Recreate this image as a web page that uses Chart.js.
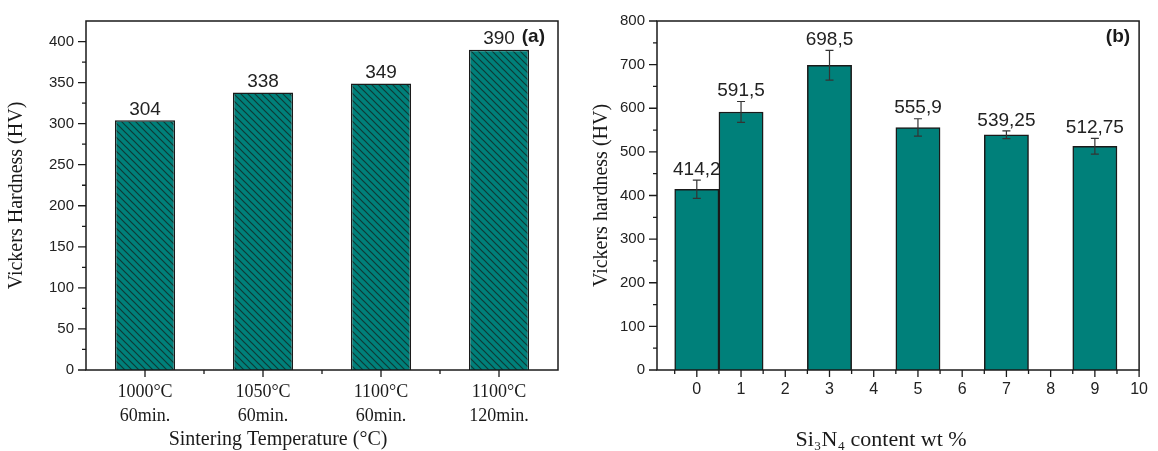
<!DOCTYPE html>
<html>
<head>
<meta charset="utf-8">
<script src="https://cdn.jsdelivr.net/npm/chart.js"></script>
<style>
  html, body { margin: 0; padding: 0; background: #fff; }
  #wrapA { position: absolute; left: 0; top: 0; width: 580px; height: 451px; }
  #wrapB { position: absolute; left: 580px; top: 0; width: 578px; height: 451px; }
</style>
</head>
<body>
<div id="wrapA"><canvas id="chartA"></canvas></div>
<div id="wrapB"><canvas id="chartB"></canvas></div>
<script>
// panel (a) data
const tempLabels = [['1000°C', '60min.'], ['1050°C', '60min.'], ['1100°C', '60min.'], ['1100°C', '120min.']];
const hardnessA = [304, 338, 349, 390];

// panel (b) data
const si3n4 = [0, 1, 3, 5, 7, 9];
const hardnessB = [414.2, 591.5, 698.5, 555.9, 539.25, 512.75];
const errB = [21, 24, 34, 20, 9, 18];
const xTicksB = [0, 1, 2, 3, 4, 5, 6, 7, 8, 9, 10];

const TEAL = '#00807a';
const INK = '#1a1a1a';
const SANS = 'Liberation Sans, Arial, sans-serif';
const SERIF = 'Liberation Serif, Times New Roman, serif';

// hatch pattern for panel (a)
function hatch() {
    const s = 7;
    const c = document.createElement('canvas');
    c.width = s; c.height = s;
    const g = c.getContext('2d');
    g.fillStyle = TEAL;
    g.fillRect(0, 0, s, s);
    g.strokeStyle = '#0d3a36';
    g.lineWidth = 1.2;
    g.beginPath();
    g.moveTo(0, 0); g.lineTo(s, s);
    g.moveTo(-1, s - 1); g.lineTo(1, s + 1);
    g.moveTo(s - 1, -1); g.lineTo(s + 1, 1);
    g.stroke();
    return g.createPattern(c, 'repeat');
}

// frame + tick marks + labels drawn on top
function framePlugin(opts) {
    return {
        id: 'frame',
        afterDatasetsDraw(chart) {
            const ctx = chart.ctx;
            const a = chart.chartArea;
            const x = chart.scales.x, y = chart.scales.y;
            ctx.save();
            ctx.strokeStyle = INK;
            ctx.lineWidth = 1.5;
            ctx.strokeRect(a.left, a.top, a.right - a.left, a.bottom - a.top);

            ctx.lineWidth = 1.3;
            ctx.beginPath();
            // y ticks
            const yt = y.ticks.map(t => t.value);
            const ystep = yt[1] - yt[0];
            yt.forEach(v => {
                const py = y.getPixelForValue(v);
                ctx.moveTo(a.left - 8, py); ctx.lineTo(a.left, py);
                const m = v + ystep / 2;
                if (m < y.max) {
                    const pm = y.getPixelForValue(m);
                    ctx.moveTo(a.left - 4, pm); ctx.lineTo(a.left, pm);
                }
            });
            // x ticks
            opts.xMajor(x).forEach(px => { ctx.moveTo(px, a.bottom); ctx.lineTo(px, a.bottom + 7); });
            opts.xMinor(x).forEach(px => { ctx.moveTo(px, a.bottom); ctx.lineTo(px, a.bottom + 4); });
            ctx.stroke();

            // panel tag
            ctx.fillStyle = INK;
            ctx.font = 'bold 19px ' + SANS;
            ctx.textAlign = 'right';
            ctx.textBaseline = 'middle';
            ctx.fillText(opts.tag, a.right - opts.tagDx, a.top + 16);

            // x axis title
            ctx.font = opts.xTitleSize + 'px ' + SERIF;
            ctx.textAlign = 'center';
            ctx.textBaseline = 'middle';
            ctx.fillText(opts.xTitle, (a.left + a.right) / 2 + opts.xTitleDx, opts.xTitleY);
            ctx.restore();
        }
    };
}

// value labels above bars (and error bars)
const valuePlugin = {
    id: 'values',
    afterDatasetsDraw(chart) {
        const ctx = chart.ctx;
        const meta = chart.getDatasetMeta(0);
        const ds = chart.data.datasets[0];
        const y = chart.scales.y;
        ctx.save();
        meta.data.forEach((bar, i) => {
            const raw = ds.data[i];
            const val = typeof raw === 'object' ? raw.y : raw;
            let topY = bar.y;
            if (ds.errors) {
                const e = ds.errors[i];
                const yHi = y.getPixelForValue(val + e);
                const yLo = y.getPixelForValue(val - e);
                ctx.strokeStyle = '#333';
                ctx.lineWidth = 1.2;
                ctx.beginPath();
                ctx.moveTo(bar.x, yHi); ctx.lineTo(bar.x, yLo);
                ctx.moveTo(bar.x - 4, yHi); ctx.lineTo(bar.x + 4, yHi);
                ctx.moveTo(bar.x - 4, yLo); ctx.lineTo(bar.x + 4, yLo);
                ctx.stroke();
                topY = yHi;
            }
            ctx.fillStyle = '#222';
            ctx.font = '19px ' + SANS;
            ctx.textAlign = 'center';
            ctx.textBaseline = 'bottom';
            ctx.fillText(String(val).replace('.', ','), bar.x, topY - 1);
        });
        ctx.restore();
    }
};

Chart.defaults.animation = false;
Chart.defaults.responsive = true;
Chart.defaults.maintainAspectRatio = false;

// ---------- panel (a) ----------
new Chart(document.getElementById('chartA'), {
    type: 'bar',
    data: {
        labels: tempLabels,
        datasets: [{
            data: hardnessA,
            backgroundColor: hatch(),
            borderColor: INK,
            borderWidth: 1.5,
            barPercentage: 0.51,
            categoryPercentage: 1
        }]
    },
    options: {
        layout: { padding: { left: 0, right: 22, top: 11, bottom: 0 } },
        plugins: { legend: { display: false }, tooltip: { enabled: false } },
        scales: {
            x: {
                grid: { display: false, drawTicks: false },
                border: { display: false },
                ticks: { color: INK, font: { family: SERIF, size: 18, lineHeight: 1.3 }, padding: 11 },
                afterFit(s) { s.height = 81; }
            },
            y: {
                min: 0, max: 425,
                grid: { display: false, drawTicks: false },
                border: { display: false },
                ticks: { stepSize: 50, color: '#222', font: { family: SANS, size: 15 }, padding: 12 },
                afterBuildTicks(s) { s.ticks = s.ticks.filter(t => t.value % 50 === 0); },
                title: { display: true, text: 'Vickers Hardness (HV)', color: INK,
                         font: { family: SERIF, size: 20 }, padding: { top: 5, bottom: 0 } },
                afterFit(s) { s.width = 86; }
            }
        }
    },
    plugins: [valuePlugin, framePlugin({
        tag: '(a)', tagDx: 13,
        xTitle: 'Sintering Temperature (°C)', xTitleSize: 20, xTitleDx: -44, xTitleY: 440,
        xMajor: x => tempLabels.map((_, i) => x.getPixelForValue(i)),
        xMinor: x => tempLabels.slice(1).map((_, i) => (x.getPixelForValue(i) + x.getPixelForValue(i + 1)) / 2)
    })]
});

// ---------- panel (b) ----------
new Chart(document.getElementById('chartB'), {
    type: 'bar',
    data: {
        datasets: [{
            data: si3n4.map((v, i) => ({ x: v, y: hardnessB[i] })),
            errors: errB,
            backgroundColor: TEAL,
            borderColor: INK,
            borderWidth: 1.5,
            barPercentage: 1,
            categoryPercentage: 1
        }]
    },
    options: {
        layout: { padding: { left: 0, right: 11, top: 16, bottom: 0 } },
        plugins: { legend: { display: false }, tooltip: { enabled: false } },
        scales: {
            x: {
                type: 'linear',
                min: -0.9, max: 10,
                offset: false,
                grid: { display: false, drawTicks: false, offset: false },
                border: { display: false },
                ticks: { color: '#222', font: { family: SANS, size: 16 }, padding: 10 },
                afterBuildTicks(s) { s.ticks = xTicksB.map(v => ({ value: v })); },
                afterFit(s) { s.height = 81; }
            },
            y: {
                min: 0, max: 800,
                grid: { display: false, drawTicks: false },
                border: { display: false },
                ticks: { stepSize: 100, color: '#222', font: { family: SANS, size: 15 }, padding: 12 },
                title: { display: true, text: 'Vickers hardness (HV)', color: INK,
                         font: { family: SERIF, size: 20 }, padding: { top: 10, bottom: 0 } },
                afterFit(s) { s.width = 77; }
            }
        }
    },
    plugins: [valuePlugin, framePlugin({
        tag: '(b)', tagDx: 9,
        xTitle: 'Si₃N₄ content wt %', xTitleSize: 22, xTitleDx: -17, xTitleY: 440,
        xMajor: x => x.ticks.map(t => x.getPixelForValue(t.value)),
        xMinor: x => x.ticks.filter(t => t.value + 0.5 <= x.max).map(t => x.getPixelForValue(t.value + 0.5))
                      .concat([x.getPixelForValue(-0.5)])
    })]
});
</script>
</body>
</html>
